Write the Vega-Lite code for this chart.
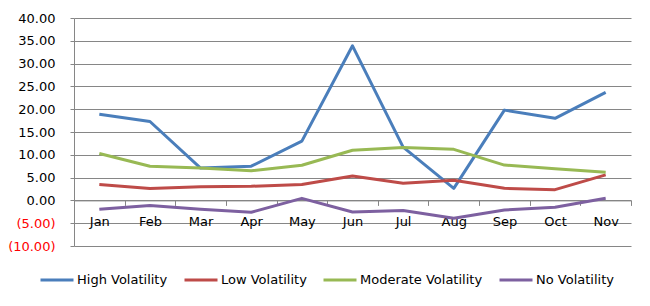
{
  "$schema": "https://vega.github.io/schema/vega-lite/v6.json",
  "width": 557,
  "height": 228,
  "autosize": {"type": "none"},
  "padding": {"left": 74, "top": 18, "right": 19, "bottom": 60},
  "background": "white",
  "config": {
    "view": {"stroke": null},
    "font": "DejaVu Sans",
    "axis": {"labelFont": "DejaVu Sans", "labelFontSize": 13, "labelColor": "#000000"}
  },
  "data": {
    "values": [
      {"month": "Jan", "series": "High Volatility", "value": 18.9},
      {"month": "Feb", "series": "High Volatility", "value": 17.3},
      {"month": "Mar", "series": "High Volatility", "value": 7.1},
      {"month": "Apr", "series": "High Volatility", "value": 7.5},
      {"month": "May", "series": "High Volatility", "value": 13.0},
      {"month": "Jun", "series": "High Volatility", "value": 33.9},
      {"month": "Jul", "series": "High Volatility", "value": 11.7},
      {"month": "Aug", "series": "High Volatility", "value": 2.65},
      {"month": "Sep", "series": "High Volatility", "value": 19.8},
      {"month": "Oct", "series": "High Volatility", "value": 18.0},
      {"month": "Nov", "series": "High Volatility", "value": 23.7},
      {"month": "Jan", "series": "Low Volatility", "value": 3.5},
      {"month": "Feb", "series": "Low Volatility", "value": 2.6},
      {"month": "Mar", "series": "Low Volatility", "value": 3.0},
      {"month": "Apr", "series": "Low Volatility", "value": 3.1},
      {"month": "May", "series": "Low Volatility", "value": 3.5},
      {"month": "Jun", "series": "Low Volatility", "value": 5.35},
      {"month": "Jul", "series": "Low Volatility", "value": 3.75},
      {"month": "Aug", "series": "Low Volatility", "value": 4.4},
      {"month": "Sep", "series": "Low Volatility", "value": 2.65},
      {"month": "Oct", "series": "Low Volatility", "value": 2.35},
      {"month": "Nov", "series": "Low Volatility", "value": 5.6},
      {"month": "Jan", "series": "Moderate Volatility", "value": 10.3},
      {"month": "Feb", "series": "Moderate Volatility", "value": 7.5},
      {"month": "Mar", "series": "Moderate Volatility", "value": 7.1},
      {"month": "Apr", "series": "Moderate Volatility", "value": 6.5},
      {"month": "May", "series": "Moderate Volatility", "value": 7.7},
      {"month": "Jun", "series": "Moderate Volatility", "value": 11.0},
      {"month": "Jul", "series": "Moderate Volatility", "value": 11.6},
      {"month": "Aug", "series": "Moderate Volatility", "value": 11.2},
      {"month": "Sep", "series": "Moderate Volatility", "value": 7.75},
      {"month": "Oct", "series": "Moderate Volatility", "value": 6.95},
      {"month": "Nov", "series": "Moderate Volatility", "value": 6.15},
      {"month": "Jan", "series": "No Volatility", "value": -1.95},
      {"month": "Feb", "series": "No Volatility", "value": -1.1},
      {"month": "Mar", "series": "No Volatility", "value": -1.95},
      {"month": "Apr", "series": "No Volatility", "value": -2.6},
      {"month": "May", "series": "No Volatility", "value": 0.45},
      {"month": "Jun", "series": "No Volatility", "value": -2.55},
      {"month": "Jul", "series": "No Volatility", "value": -2.2},
      {"month": "Aug", "series": "No Volatility", "value": -3.9},
      {"month": "Sep", "series": "No Volatility", "value": -2.1},
      {"month": "Oct", "series": "No Volatility", "value": -1.5},
      {"month": "Nov", "series": "No Volatility", "value": 0.45}
    ]
  },
  "mark": {"type": "line", "strokeWidth": 3, "strokeJoin": "round"},
  "encoding": {
    "x": {
      "field": "month",
      "type": "nominal",
      "sort": ["Jan","Feb","Mar","Apr","May","Jun","Jul","Aug","Sep","Oct","Nov"],
      "scale": {"paddingInner": 0, "paddingOuter": 0},
      "axis": {
        "title": null,
        "labelAngle": 0,
        "offset": -45.6,
        "domainColor": "#868686",
        "tickColor": "#868686",
        "tickSize": 5,
        "tickBand": "extent",
        "labelPadding": 10,
        "grid": false
      }
    },
    "y": {
      "field": "value",
      "type": "quantitative",
      "scale": {"domain": [-10, 40], "nice": false, "zero": false},
      "axis": {
        "title": null,
        "values": [-10,-5,0,5,10,15,20,25,30,35,40],
        "labelExpr": "datum.value < 0 ? '(' + format(-datum.value, '.2f') + ')' : format(datum.value, '.2f')",
        "labelColor": {"condition": {"test": "datum.value < 0", "value": "#ff0000"}, "value": "#000000"},
        "domainColor": "#868686",
        "tickColor": "#868686",
        "tickSize": 4,
        "labelPadding": 15,
        "gridColor": "#868686",
        "gridOpacity": 1
      }
    },
    "color": {
      "field": "series",
      "type": "nominal",
      "scale": {
        "domain": ["High Volatility", "Low Volatility", "Moderate Volatility", "No Volatility"],
        "range": ["#4A7EBB", "#BE4B48", "#98B954", "#7D60A0"]
      },
      "legend": {
        "title": null,
        "orient": "none",
        "direction": "horizontal",
        "legendX": -35,
        "legendY": 244,
        "symbolType": "stroke",
        "symbolSize": 1089,
        "symbolStrokeWidth": 3,
        "labelFont": "DejaVu Sans",
        "labelFontSize": 13,
        "labelColor": "#000000",
        "labelOffset": 2,
        "columnPadding": 10
      }
    }
  }
}
